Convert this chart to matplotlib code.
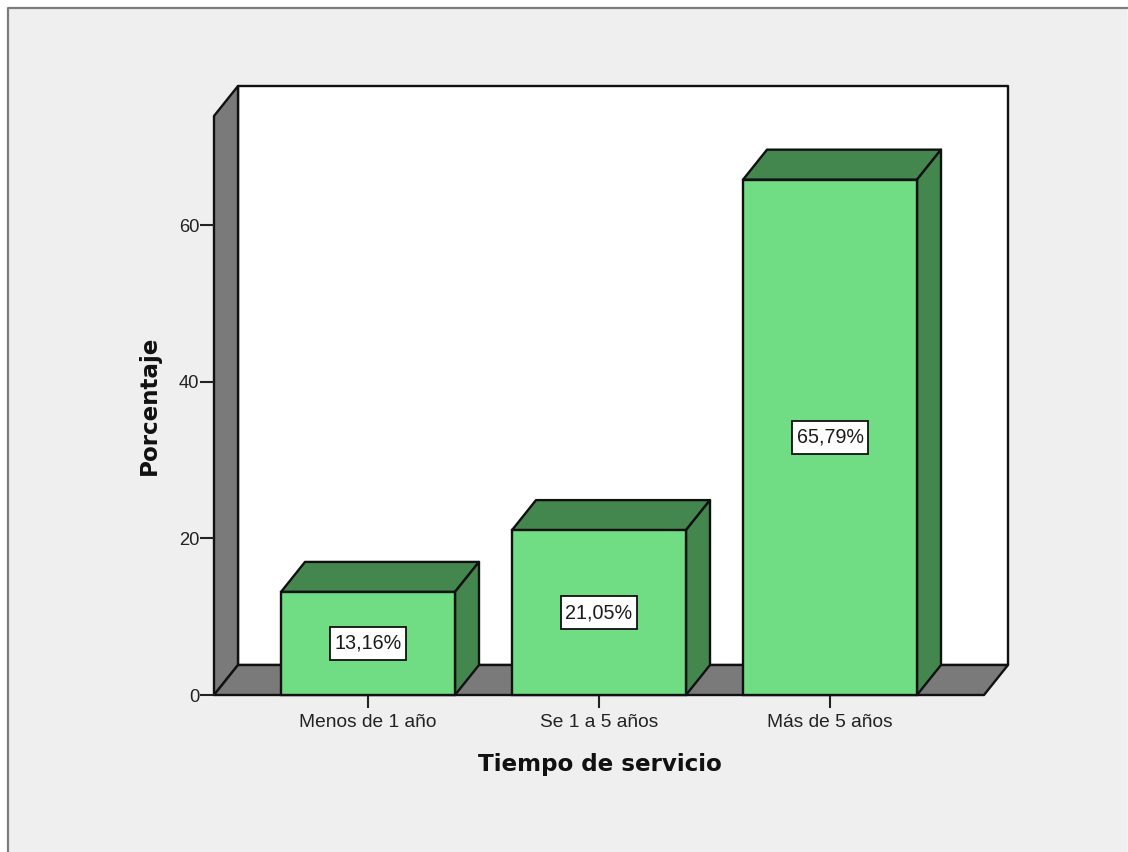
import matplotlib
matplotlib.use("Agg")
import matplotlib.pyplot as plt
from matplotlib.patches import Polygon, Rectangle
from matplotlib.lines import Line2D
from matplotlib.path import Path

categories = ["Menos de 1 año", "Se 1 a 5 años", "Más de 5 años"]
values = [13.16, 21.05, 65.79]
y_ticks = [0, 20, 40, 60]
x_label = "Tiempo de servicio"
y_label = "Porcentaje"

W, H = 1128, 852
plt.rcParams["font.family"] = ["Liberation Sans", "DejaVu Sans"]

fig = plt.figure(figsize=(W / 100, H / 100), dpi=100, facecolor="white")
fig.add_artist(Rectangle((7 / W, -0.01), (1127 - 7) / W, (852 - 8) / H + 0.01,
                         transform=fig.transFigure, facecolor="#efefef", edgecolor="none", zorder=-2))
fig.add_artist(Line2D([7.5 / W, 7.5 / W, 1127 / W], [0, (H - 8) / H, (H - 8) / H],
                      transform=fig.transFigure, color="#7d7d7d", lw=1.6, zorder=-1))
fig.add_artist(Line2D([1127.5 / W, 1127.5 / W], [0, (H - 8) / H],
                      transform=fig.transFigure, color="#c4c4c4", lw=1.0, zorder=-1))

ax = fig.add_axes([214 / W, (H - 695) / H, (984 - 214) / W, (695 - 116) / H])
ax.set_xlim(1 - 154 / 231, 3 + 154 / 231)
ax.set_ylim(0, 579 / 7.833)
ax.patch.set_visible(False)
for s in ax.spines.values():
    s.set_visible(False)

xmin, xmax = ax.get_xlim()
ymin, ymax = ax.get_ylim()
dx = 24 / 231
dy = 30 / 7.833
bar_w = 174 / 231
EDGE = "#111111"
LW = 1.7
GRAY = "#7a7a7a"
GREEN = "#70dd85"
DARK = "#43874f"


def label_box(x0, y0, width, height, mutation_size):
    """Rectangular label box, with more padding above and below than at the sides."""
    px = 0.24 * mutation_size
    py = 0.36 * mutation_size
    l, r, b, t = x0 - px, x0 + width + px, y0 - py, y0 + height + py
    return Path([(l, b), (r, b), (r, t), (l, t), (l, b)], closed=True)


def poly(pts, fc, z):
    ax.add_patch(Polygon(pts, closed=True, facecolor=fc, edgecolor=EDGE, lw=LW,
                         joinstyle="round", clip_on=False, zorder=z))


# back wall, side wall, floor
poly([(xmin + dx, dy), (xmax + dx, dy), (xmax + dx, ymax + dy), (xmin + dx, ymax + dy)], "white", 1)
poly([(xmin, 0), (xmin + dx, dy), (xmin + dx, ymax + dy), (xmin, ymax)], GRAY, 1.1)
poly([(xmin, 0), (xmax, 0), (xmax + dx, dy), (xmin + dx, dy)], GRAY, 1.2)

# 3-D bars
for i, v in enumerate(values, start=1):
    l, r = i - bar_w / 2, i + bar_w / 2
    poly([(l, v), (r, v), (r + dx, v + dy), (l + dx, v + dy)], DARK, 2)
    poly([(r, 0), (r + dx, dy), (r + dx, v + dy), (r, v)], DARK, 2)
    ax.bar(i, v, width=bar_w, color=GREEN, edgecolor=EDGE, lw=LW, clip_on=False, zorder=3)
    ax.text(i, v / 2, f"{v:.2f}%".replace(".", ","), ha="center", va="center",
            fontsize=14.2, color="#1a1a1a", zorder=5,
            bbox=dict(boxstyle=label_box, facecolor="white", edgecolor=EDGE, lw=1.3))

ax.set_yticks(y_ticks)
ax.set_xticks([1, 2, 3], categories)
ax.tick_params(axis="y", length=10, width=1.5, color="#222222", labelsize=13.2, pad=0.5, labelcolor="#222222")
ax.tick_params(axis="x", length=9, width=1.5, color="#222222", labelsize=13.8, pad=5, labelcolor="#222222")
ax.set_axisbelow(False)

fig.text(600 / W, (H - 765) / H, x_label, ha="center", va="center", fontsize=16.6,
         fontweight="bold", family=["DejaVu Sans"], color="#111111")
fig.text(149 / W, (H - 405) / H, y_label, ha="center", va="center", rotation=90, fontsize=16.6,
         fontweight="bold", family=["DejaVu Sans"], color="#111111")

fig.savefig("out.png", dpi=100, facecolor=fig.get_facecolor())
